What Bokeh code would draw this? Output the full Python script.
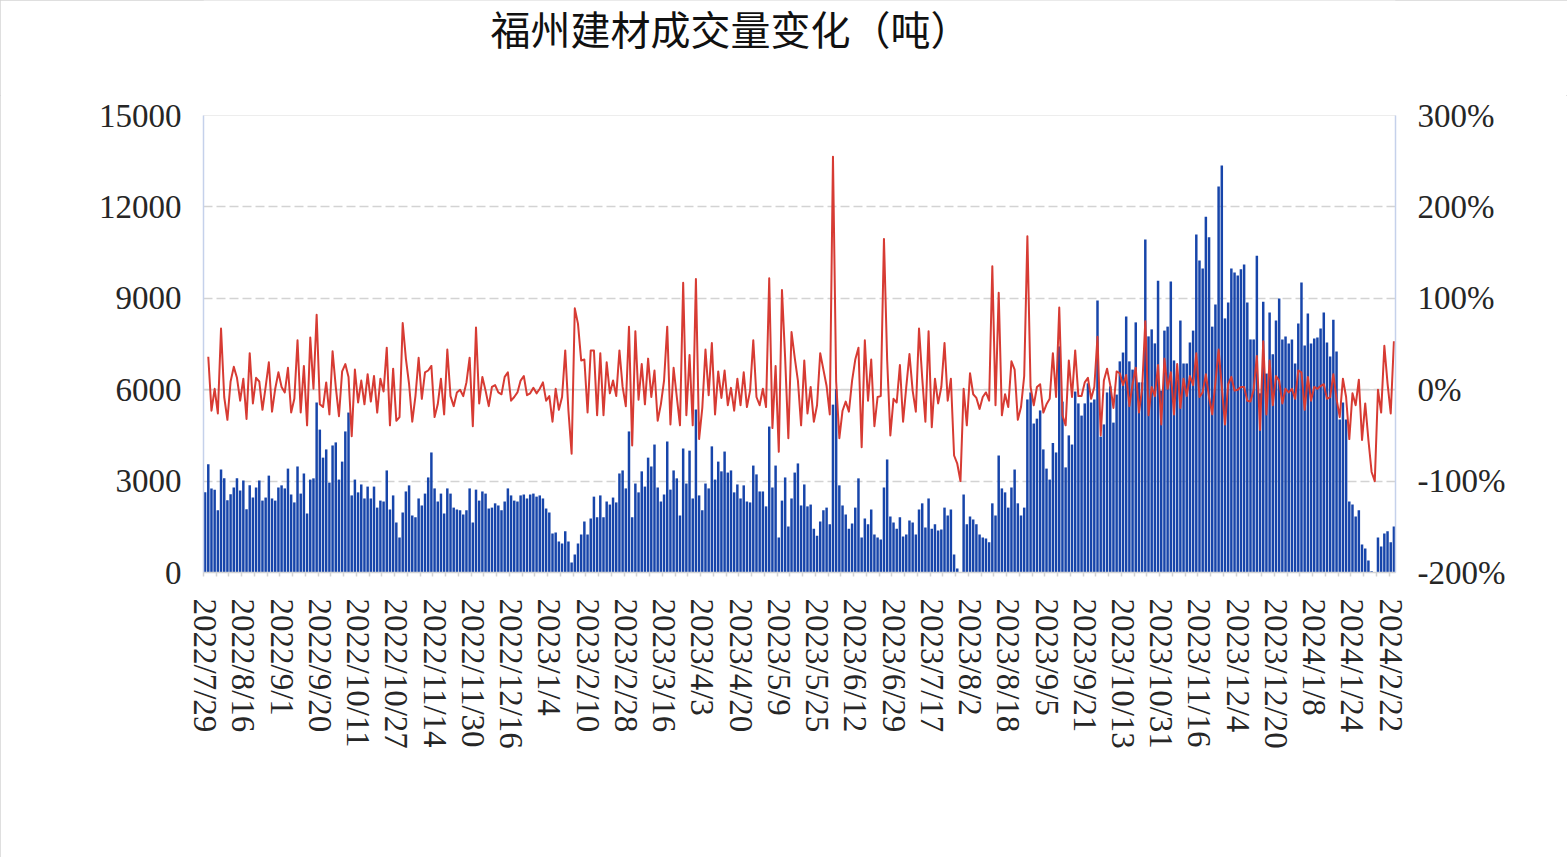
from bokeh.plotting import figure
from bokeh.layouts import column
from bokeh.models import Range1d, LinearAxis, FixedTicker, PrintfTickFormatter, Label, Span
from bokeh.embed import file_html
from bokeh.resources import INLINE

title_text = "福州建材成交量变化（吨）"

tick_dates = ["2022/7/29", "2022/8/16", "2022/9/1", "2022/9/20", "2022/10/11", "2022/10/27",
              "2022/11/14", "2022/11/30", "2022/12/16", "2023/1/4", "2023/2/10", "2023/2/28",
              "2023/3/16", "2023/4/3", "2023/4/20", "2023/5/9", "2023/5/25", "2023/6/12",
              "2023/6/29", "2023/7/17", "2023/8/2", "2023/8/18", "2023/9/5", "2023/9/21",
              "2023/10/13", "2023/10/31", "2023/11/16", "2023/12/4", "2023/12/20", "2024/1/8",
              "2024/1/24", "2024/2/22"]

# daily volume (tonnes)
volume = [
    2630, 3550, 2760, 2720, 2040, 3380, 3090, 2370, 2570, 2790, 3090, 2690, 3020, 2080, 2860, 2460,
    2790, 3020, 2360, 2460, 3180, 2430, 2360, 2790, 2860, 2760, 3410, 2560, 2300, 3480, 2590,
    3250, 1940, 3050, 3090, 5580, 4690, 3770, 4040, 2950, 4170, 4270, 3050, 3640, 4630, 5250, 2530,
    3050, 2630, 2890, 2430, 2820, 2430, 2820, 2130, 2360, 2330, 3350, 2070, 2530, 1640, 1150,
    1970, 2660, 2860, 1870, 1810, 2430, 2200, 2590, 3120, 3940, 2760, 2330, 2590, 1940, 2760, 2590,
    2130, 2070, 2040, 1900, 2040, 2760, 1640, 2720, 2360, 2660, 2590, 2100, 2130, 2270, 2200, 2040,
    2330, 2760, 2530, 2360, 2330, 2530, 2560, 2430, 2560, 2590, 2490, 2530, 2430, 2100, 1970, 1280,
    1310, 1020, 950, 1350, 1020, 330, 590, 950, 1250, 1670, 1250, 1770, 2490, 1810,
    2530, 1810, 2330, 2230, 2460, 2300, 3250, 3350, 2760, 4630, 1810, 2920, 2630, 3320, 2820, 3770,
    3480, 4200, 2790, 2330, 2560, 4300, 2720, 3350, 3090, 1870, 4070, 2920, 4000, 2430, 5350, 2530,
    2040, 2920, 2760, 4140, 3050, 3640, 3320, 3970, 3280, 3350, 2630, 2890, 2430, 2860, 2330, 2300,
    3510, 3220, 2660, 2660, 2170, 4790, 2790, 3510, 1150, 2360, 3120, 1510, 2430, 3280, 3580, 2200,
    2890, 2170, 2230, 1440, 1210, 1670, 2040, 2130, 1580, 5510, 6020, 2860, 2200, 1900, 1440, 1610,
    2130, 3090, 1150, 1770, 1580, 2070, 1250, 1150, 1080, 2790, 3710, 1840, 1640, 1440, 1810,
    1180, 1250, 1710, 1640, 1250, 2070, 2270, 1480, 2430, 1440, 1580, 1380, 1410, 2130, 1870, 2070,
    590, 130, 0, 2560, 1580, 1840, 1740, 1580, 1250, 1150, 1120, 990, 2270, 1870, 3840,
    2760, 2630, 2130, 2790, 3380, 2270, 1870, 2130, 5680, 5910, 4890, 5050, 5320, 4040, 3410, 3050,
    4250, 3940, 7420, 5610, 3450, 4500, 4200, 5940, 5550, 5150, 5550, 6210, 5580, 5680, 8930,
    4460, 4860, 5910, 6110, 4920, 5840, 6930, 7220, 8400, 6930, 6660, 8210, 6240, 6240, 10930, 7750,
    7980, 7520, 9580, 5970, 7940, 8070, 9550, 6960, 6330, 8270, 6860, 6860, 7550, 7940, 11090, 10240,
    9980, 11680, 11000, 8070, 8800, 12670, 13360, 8340, 8860, 9980, 9850, 9750, 9950, 10110, 8860, 7650,
    7650, 10400, 5880, 8890, 6530, 8530, 7160, 8270, 8990, 7650, 7750, 7520, 7650, 6860, 8170, 9520,
    7450, 8500, 7520, 7680, 7710, 8010, 8530, 7550, 7090, 8300, 7250, 5020, 5580, 5020, 2330, 2230,
    1840, 2040, 920, 790, 390, 40, 0, 1150, 850, 1280, 1350, 990, 1510,
]

# day-on-day change (%), starting from the second day
change_pct = [
    36, -23, 1, -26, 67, -8, -33, 9, 25, 13, -12, 12, -32, 40, -15, 13, 9, -22, 3, 30,
    -24, 1, 19, 3, -3, 24, -25, -10, 54, -25,
    26, -39, 57, 1, 82, -16, -19, 8, -27, 42, 3, -29, 20, 28, 14, -51, 22, -14, 10, -16,
    17, -13, 15, -25, 12, -2, 46, -39, 23, -34, -30,
    73, 34, 6, -35, -7, 35, -10, 19, 21, 26, -30, -16, 12, -27, 44, -7, -18, -3, 0, -7,
    8, 35, -40, 68, -15, 14, -1, -18, 3, 5, -3, -5,
    14, 19, -12, -8, -3, 10, 15, -6, -4, 2, -4, 1, 8, -12, -7, -35, 1, -22, -8, 43,
    -23, -70, 89, 72, 32, 33, -25, 43, 43, -28, 40,
    -28, 30, -4, 10, -7, 43, 3, -18, 69, -61, 64, -11, 28, -16, 34, -8, 21, -34, -16, 10,
    69, -38, 24, -8, -39, 117, -28, 38, -39, 121, -54,
    -20, 44, -6, 51, -27, 20, -9, 21, -17, 2, -23, 12, -17, 19, -19, -1, 54, -8, -17, 1,
    -19, 122, -42, 26, -68, 109, 34, -53, 63, 35, 10, -39,
    32, -26, 3, -35, -17, 40, 22, 4, -27, 255, 9, -53, -23, -13, -24, 10, 33, 46, -63, 54,
    -12, 33, -40, -8, -7, 165, 33, -50, -10, -14, 27,
    -35, 3, 39, -1, -24, 67, 13, -35, 64, -41, 12, -15, 3, 51, -12, 12, -72, -81, -100, 1,
    -39, 18, -5, -9, -21, -8, -3, -12, 135, -17, 106,
    -28, -5, -19, 31, 22, -33, -19, 15, 168, 3, -17, 3, 6, -25, -16, -10, 40, -8, 90, -28,
    -39, 32, -8, 43, -7, -7, 8, 13, -10, 3, 58, -50,
    10, 23, 5, -20, 20, 18, 5, 16, -18, 6, 24, -25, 1, 75, -28, 3, -7, 27, -38, 34,
    1, 19, -27, 28, -20, 12, -7, 15, 5, 40, -8,
    -3, 17, -8, -27, 8, 44, 3, -38, 6, 14, -1, 0, 3, 3, -12, -13, 0, 37, -44, 53,
    -27, 32, -17, 15, 10, -15, 1, -3, 1, -10, 21, 19,
    -22, 14, -12, 3, 1, 4, 6, -10, -8, 17, -10, -30, 12, -8, -54, -4, -17, 11, -55, -15,
    -55, -90, -100, 0, -25, 48, 7, -26, 53,
]

left_ticks = [0, 3000, 6000, 9000, 12000, 15000]
right_ticks = [-200, -100, 0, 100, 200, 300]

n = len(volume)
xs = list(range(n))
line_x = list(range(1, 1 + len(change_pct)))

BAR = "#1745AA"
RED = "#D73B33"
GRID = "#D3D3D3"
AXIS_BLUE = "#C5D1EB"
TXT = "#262626"
FONT = "Liberation Serif"
FS = "33px"

W = 1567
FL = 203          # frame left
FW = 1192         # frame width
FR = W - FL - FW  # right border
TITLE_H = 95

# ---- title strip (frame aligned with the chart's frame) ----
pt = figure(width=W, height=TITLE_H, frame_width=FW, frame_height=TITLE_H,
            x_range=Range1d(0, FW), y_range=Range1d(0, TITLE_H),
            x_axis_location=None, y_axis_location=None,
            output_backend="svg", toolbar_location=None, tools="")
pt.min_border_left = FL
pt.min_border_right = FR
pt.min_border_top = 0
pt.min_border_bottom = 0
pt.grid.grid_line_color = None
pt.outline_line_color = None
pt.add_layout(Label(x=490 - FL, y=TITLE_H - 27, text=title_text,
                    text_font="Noto Sans CJK SC", text_font_size="40px", text_color="#111111",
                    text_align="left", text_baseline="middle"))

# ---- main chart ----
p = figure(width=W, height=762, frame_width=FW, frame_height=457,
           x_range=Range1d(-0.5, n - 0.5), y_range=Range1d(0, 15000),
           output_backend="svg", toolbar_location=None, tools="")
p.min_border_left = FL
p.min_border_right = FR
p.min_border_top = 115 - TITLE_H
p.min_border_bottom = 762 - (115 - TITLE_H) - 457
p.extra_y_ranges = {"pct": Range1d(-200, 300)}
p.outline_line_color = "#EDEDED"
p.background_fill_color = "white"
p.border_fill_color = "white"

# grid
p.xgrid.grid_line_color = None
p.ygrid.ticker = FixedTicker(ticks=left_ticks[1:-1])
p.ygrid.grid_line_color = GRID
p.ygrid.grid_line_width = 1.5
p.ygrid.grid_line_dash = "9 4"
p.add_layout(Span(location=6000, dimension="width", line_color=GRID, line_width=1.5, level="underlay"))

# x axis
xa = p.xaxis[0]
xa.ticker = FixedTicker(ticks=[i * 12 for i in range(len(tick_dates))],
                        minor_ticks=[-0.5 + 4 * j for j in range(94)])
xa.major_label_overrides = {i * 12: d for i, d in enumerate(tick_dates)}
xa.major_label_orientation = "vertical"
xa.major_tick_line_color = None
xa.major_tick_out = 0
xa.major_tick_in = 0
xa.minor_tick_line_color = GRID
xa.minor_tick_line_width = 1.5
xa.minor_tick_out = 4
xa.minor_tick_in = 0
xa.axis_line_color = GRID
xa.axis_line_width = 1.5
xa.major_label_standoff = 22
xa.major_label_text_font = FONT
xa.major_label_text_font_size = FS
xa.major_label_text_color = TXT

# left axis
ya = p.yaxis[0]
ya.ticker = FixedTicker(ticks=left_ticks)
ya.major_tick_line_color = None
ya.minor_tick_line_color = None
ya.major_tick_out = 0
ya.major_tick_in = 0
ya.axis_line_color = AXIS_BLUE
ya.axis_line_width = 1.5
ya.major_label_standoff = 22
ya.major_label_text_font = FONT
ya.major_label_text_font_size = FS
ya.major_label_text_color = TXT

# right axis
ra = LinearAxis(y_range_name="pct", ticker=FixedTicker(ticks=right_ticks),
                formatter=PrintfTickFormatter(format="%d%%"))
ra.major_tick_line_color = None
ra.minor_tick_line_color = None
ra.major_tick_out = 0
ra.major_tick_in = 0
ra.axis_line_color = AXIS_BLUE
ra.axis_line_width = 1.5
ra.major_label_standoff = 22
ra.major_label_text_font = FONT
ra.major_label_text_font_size = FS
ra.major_label_text_color = TXT
p.add_layout(ra, "right")

# data
p.vbar(x=xs, top=volume, width=0.78, fill_color=BAR, line_color=None)
p.line(x=line_x, y=change_pct, y_range_name="pct", line_color=RED, line_width=2,
       line_join="round")

layout = column(pt, p, spacing=0)
layout.styles = {"outline": "1px solid #D4D4D4", "outline-offset": "-1px"}

open("out.html", "w").write(file_html(layout, INLINE))
